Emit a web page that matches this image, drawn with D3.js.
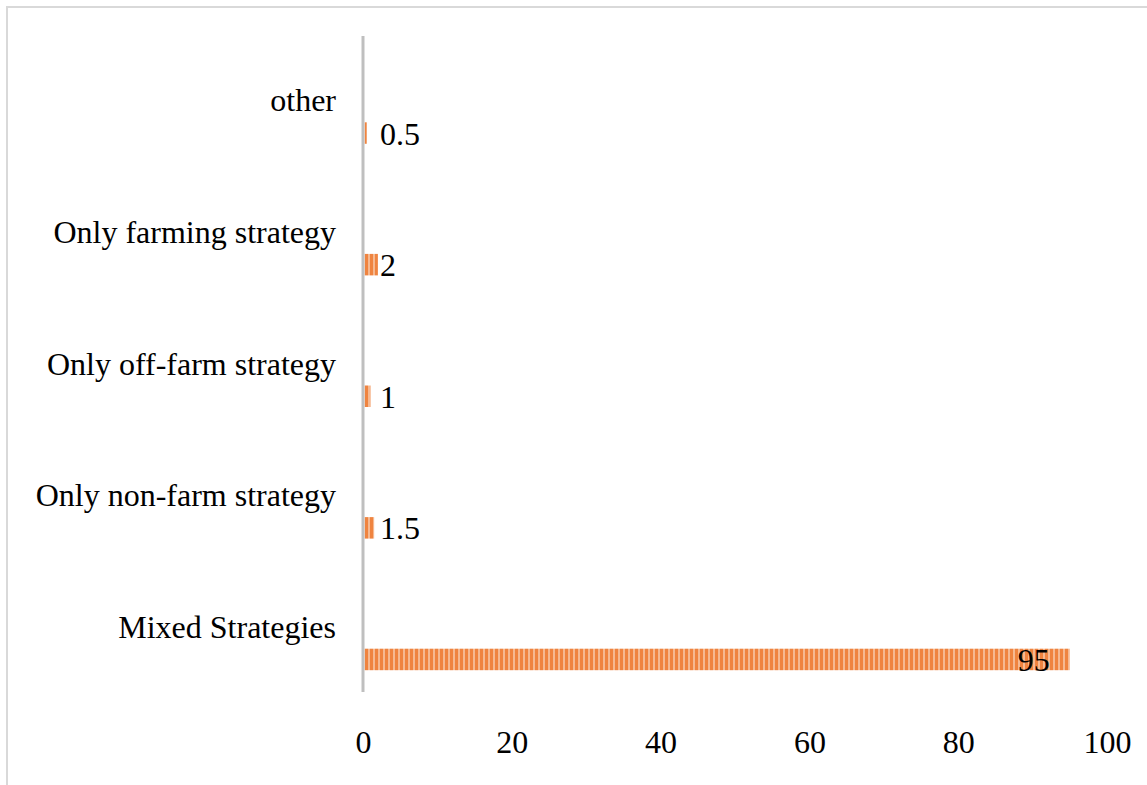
<!DOCTYPE html>
<html>
<head>
<meta charset="utf-8">
<script src="https://cdn.jsdelivr.net/npm/d3@7"></script>
<style>
  html, body { margin: 0; padding: 0; background: #fff; }
  svg { display: block; }
  text { font-family: "Liberation Serif", "Times New Roman", serif; fill: #000; }
</style>
</head>
<body>
<svg id="chart" width="1147" height="785"></svg>
<script>
// Livelihood strategy shares (%)
const categories = ["other", "Only farming strategy", "Only off-farm strategy", "Only non-farm strategy", "Mixed Strategies"];
const values = [0.5, 2, 1, 1.5, 95];
const tickValues = [0, 20, 40, 60, 80, 100];

const W = 1147, H = 785;
const FONT = "Liberation Serif, Times New Roman, serif";
const svg = d3.select("#chart");

// outer chart frame
svg.append("rect")
  .attr("x", 7).attr("y", 7)
  .attr("width", W + 20).attr("height", H + 20)
  .attr("fill", "none").attr("stroke", "#d9d9d9").attr("stroke-width", 2);

const x = d3.scaleLinear().domain([0, 100]).range([363, 1107]);
const y = d3.scaleBand().domain(categories).range([35, 693]).paddingInner(0).paddingOuter(0);

// striped fill for the bars
const defs = svg.append("defs");
const pat = defs.append("pattern")
  .attr("id", "stripes").attr("patternUnits", "userSpaceOnUse")
  .attr("width", 5).attr("height", 10);
pat.append("rect").attr("width", 5).attr("height", 10).attr("fill", "#ef8440");
pat.append("rect").attr("x", 3).attr("width", 2).attr("height", 10).attr("fill", "#f6b991");

const barOffset = 21.5, barH = 21.5;

svg.append("g").selectAll("rect")
  .data(categories)
  .join("rect")
  .attr("x", x(0) + 1.5)
  .attr("y", d => y(d) + y.bandwidth() / 2 + barOffset)
  .attr("width", (d, i) => Math.max(0, x(values[i]) - x(0) - 1.5))
  .attr("height", barH)
  .attr("fill", "url(#stripes)");

// value labels
svg.append("g").selectAll("text")
  .data(categories)
  .join("text")
  .attr("x", (d, i) => {
    const end = x(values[i]);
    return end - x(0) > 100 ? end - 20 : x(0) + 17;
  })
  .attr("text-anchor", (d, i) => x(values[i]) - x(0) > 100 ? "end" : "start")
  .attr("y", d => y(d) + y.bandwidth() / 2 + barOffset + barH / 2)
  .attr("dy", "0.36em")
  .attr("font-size", 32)
  .attr("font-family", FONT)
  .text((d, i) => values[i]);

// category labels (left axis)
const yAxis = d3.axisLeft(y).tickSize(0).tickPadding(27);
const gy = svg.append("g").attr("transform", `translate(${x(0)},0)`).call(yAxis);
gy.select(".domain").remove();
gy.selectAll("text")
  .attr("font-size", 32)
  .attr("font-family", FONT)
  .attr("fill", "#000")
  .attr("dy", "0.33em");

// vertical axis line
svg.append("line")
  .attr("x1", x(0)).attr("x2", x(0))
  .attr("y1", 36).attr("y2", 692)
  .attr("stroke", "#bfbfbf").attr("stroke-width", 3);

// bottom value axis (labels only)
const xAxis = d3.axisBottom(x).tickValues(tickValues).tickSize(0).tickPadding(0);
const gx = svg.append("g").attr("transform", "translate(0,753)").call(xAxis);
gx.select(".domain").remove();
gx.selectAll("text")
  .attr("font-size", 32)
  .attr("font-family", FONT)
  .attr("fill", "#000")
  .attr("y", 0)
  .attr("dy", 0);
</script>
</body>
</html>
